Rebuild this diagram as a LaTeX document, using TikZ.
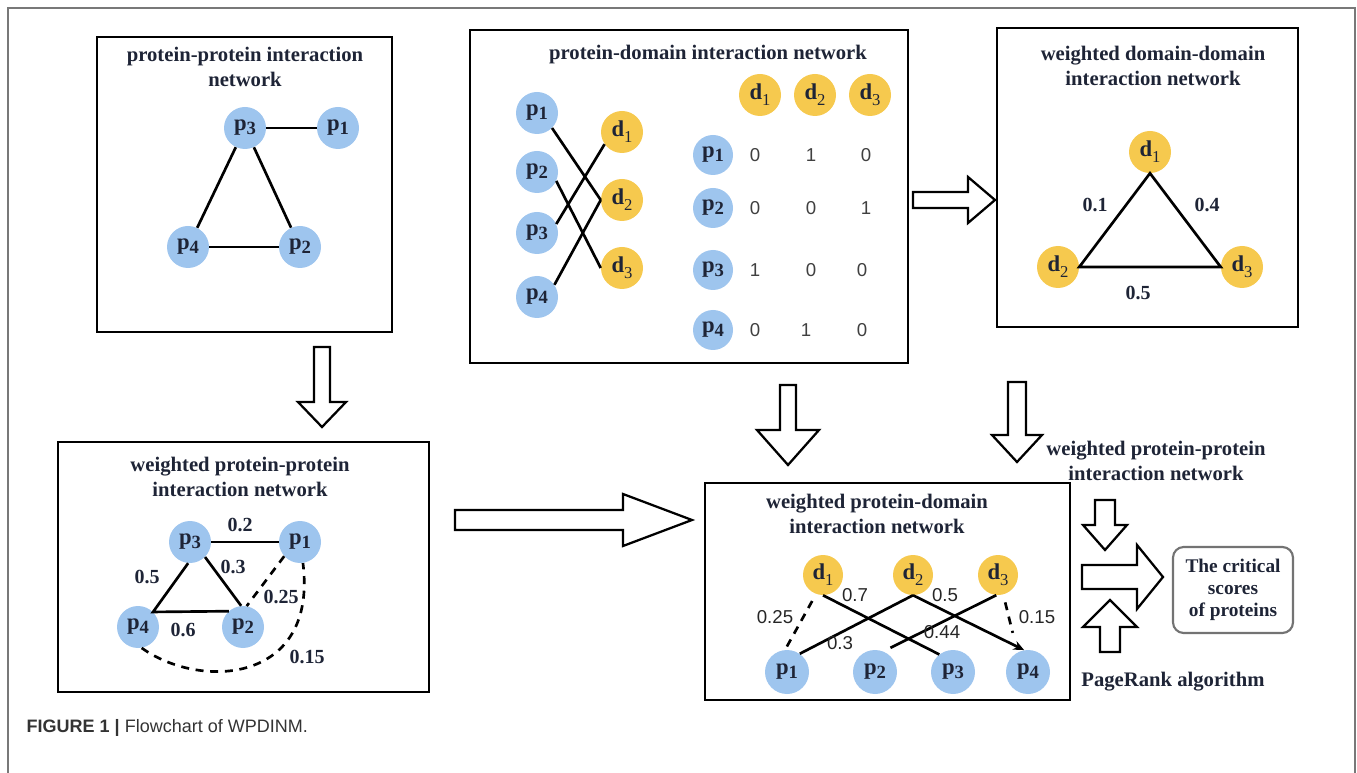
\documentclass[tikz,border=0pt]{standalone}
\usepackage{fontspec}
\setmainfont{Liberation Serif}
\setsansfont{Liberation Sans}
\usetikzlibrary{arrows.meta}

\definecolor{pblue}{RGB}{158,197,238}
\definecolor{dyellow}{RGB}{246,201,78}
\definecolor{ink}{RGB}{30,36,54}
\definecolor{framegray}{RGB}{120,120,120}

% node labels: protein p_i and domain d_j
\newcommand\pname[1]{\textbf{p}\raisebox{-0.3ex}{\fontsize{14}{14}\selectfont\bfseries #1}}
\newcommand\dname[1]{\textbf{d}\raisebox{-0.6ex}{\fontsize{12.5}{12.5}\selectfont #1}}

% hollow block arrow: tail point, direction, length, head length, shaft half width, head half width
\newcommand\blockarrow[6]{%
  \draw[barrow, shift={(#1)}, rotate=#2]
    (0,-#5) -- ({#3-#4},-#5) -- ({#3-#4},-#6) -- (#3,0)
    -- ({#3-#4},#6) -- ({#3-#4},#5) -- (0,#5) -- cycle;}

\tikzset{
  panel/.style={draw=black, line width=2.2pt},
  title/.style={font=\bfseries\fontsize{15.5}{18.5}\selectfont, text=ink, align=center},
  pnode/.style={circle, fill=pblue, minimum size=31.5pt, inner sep=0pt,
                font=\fontsize{17}{17}\selectfont, text=ink},
  dnode/.style={circle, fill=dyellow, minimum size=31.5pt, inner sep=0pt,
                font=\fontsize{17}{17}\selectfont, text=ink},
  edge/.style={line width=2pt, draw=black},
  dedge/.style={edge, dash pattern=on 6pt off 5pt},
  wlab/.style={font=\bfseries\fontsize{15}{15}\selectfont, text=ink},
  slab/.style={font=\sffamily\fontsize{14}{14}\selectfont, text=black!85},
  mval/.style={font=\sffamily\fontsize{14}{14}\selectfont, text=black!75},
  barrow/.style={draw=black, line width=1.7pt, fill=white, line join=miter},
}

\begin{document}
\begin{tikzpicture}[x=0.75pt, y=-0.75pt]
\useasboundingbox (0,0) rectangle (1357,773);

% figure frame
\draw[framegray, line width=1.2pt] (8,773) -- (8,8) -- (1355,8) -- (1355,773);

% ---------- protein-protein interaction network ----------
\draw[panel] (97,37) rectangle (392,332);
\node[title] (ta) at (245,67) {protein-protein interaction\\network};
\node[pnode] (a3) at (245,128) {\pname{3}};
\node[pnode] (a1) at (338,128) {\pname{1}};
\node[pnode] (a4) at (188,247) {\pname{4}};
\node[pnode] (a2) at (300,247) {\pname{2}};
\draw[edge] (a3) -- (a1);
\draw[edge] (a3) -- (a4);
\draw[edge] (a3) -- (a2);
\draw[edge] (a4) -- (a2);

% ---------- protein-domain interaction network ----------
\draw[panel] (470,30) rectangle (908,363);
\node[title] (tb) at (708,55) {protein-domain interaction network};
\node[pnode] (bp1) at (537,113) {\pname{1}};
\node[pnode] (bp2) at (537,172) {\pname{2}};
\node[pnode] (bp3) at (537,233) {\pname{3}};
\node[pnode] (bp4) at (537,297) {\pname{4}};
\node[dnode] (bd1) at (622,132) {\dname{1}};
\node[dnode] (bd2) at (622,200) {\dname{2}};
\node[dnode] (bd3) at (622,268) {\dname{3}};
\draw[edge] (bp1.-45) -- (bd2.west);
\draw[edge] (bp2.-25) -- (bd3.west);
\draw[edge] (bp3.25) -- (bd1.-145);
\draw[edge] (bp4.35) -- (bd2.west);

% incidence matrix
\node[dnode] (md1) at (760,95) {\dname{1}};
\node[dnode] (md2) at (815,95) {\dname{2}};
\node[dnode] (md3) at (870,95) {\dname{3}};
\node[pnode, minimum size=30pt] (mp1) at (713,155) {\pname{1}};
\node[pnode, minimum size=30pt] (mp2) at (713,208) {\pname{2}};
\node[pnode, minimum size=30pt] (mp3) at (713,270) {\pname{3}};
\node[pnode, minimum size=30pt] (mp4) at (713,330) {\pname{4}};
\node[mval] (m11) at (755,155) {0};
\node[mval] (m12) at (811,155) {1};
\node[mval] (m13) at (866,155) {0};
\node[mval] (m21) at (755,208) {0};
\node[mval] (m22) at (811,208) {0};
\node[mval] (m23) at (866,208) {1};
\node[mval] (m31) at (755,270) {1};
\node[mval] (m32) at (811,270) {0};
\node[mval] (m33) at (862,270) {0};
\node[mval] (m41) at (755,330) {0};
\node[mval] (m42) at (806,330) {1};
\node[mval] (m43) at (862,330) {0};

% ---------- weighted domain-domain interaction network ----------
\draw[panel] (997,28) rectangle (1298,327);
\node[title] (tc) at (1153,66) {weighted domain-domain\\interaction network};
\node[dnode] (cd1) at (1150,152) {\dname{1}};
\node[dnode] (cd2) at (1058,267) {\dname{2}};
\node[dnode] (cd3) at (1242,267) {\dname{3}};
\draw[edge, line join=miter] (cd1.south) -- (cd2.east) -- (cd3.west) -- cycle;
\node[wlab] (w1) at (1095,205) {0.1};
\node[wlab] (w2) at (1207,205) {0.4};
\node[wlab] (w3) at (1138,293) {0.5};

% ---------- weighted protein-protein interaction network ----------
\draw[panel] (58,442) rectangle (429,692);
\node[title] (td) at (240,477) {weighted protein-protein\\interaction network};
\node[pnode] (dp3) at (190,542) {\pname{3}};
\node[pnode] (dp1) at (300,542) {\pname{1}};
\node[pnode] (dp4) at (138,627) {\pname{4}};
\node[pnode] (dp2) at (243,627) {\pname{2}};
\draw[edge] (dp3.east) -- (dp1.west);
\draw[edge] (dp3.-95) -- (dp4.45) -- (dp2.132);
\draw[edge] (dp3.-45) -- (dp2.95);
\draw[dedge] (dp1.222) -- (dp2.80);
\draw[dedge] (dp4.-80) .. controls (200,690) and (318,684) .. (dp1.-82);
\node[wlab] (v1) at (240,525) {0.2};
\node[wlab] (v2) at (233,567) {0.3};
\node[wlab] (v3) at (147,577) {0.5};
\node[wlab] (v4) at (281,597) {0.25};
\node[wlab] (v5) at (183,630) {0.6};
\node[wlab] (v6) at (307,657) {0.15};

% ---------- weighted protein-domain interaction network ----------
\draw[panel] (705,483) rectangle (1070,700);
\node[title] (te) at (877,514) {weighted protein-domain\\interaction network};
\node[dnode, minimum size=30pt] (ed1) at (823,575) {\dname{1}};
\node[dnode, minimum size=30pt] (ed2) at (913,575) {\dname{2}};
\node[dnode, minimum size=30pt] (ed3) at (998,575) {\dname{3}};
\node[pnode, minimum size=33pt] (ep1) at (787,672) {\pname{1}};
\node[pnode, minimum size=33pt] (ep2) at (875,672) {\pname{2}};
\node[pnode, minimum size=33pt] (ep3) at (953,672) {\pname{3}};
\node[pnode, minimum size=33pt] (ep4) at (1028,672) {\pname{4}};
\draw[edge] (ed1.south) -- (ep3.128);
\draw[dedge, shorten <=6pt] (ed1.-110) -- (ep1.95);
\draw[edge] (ed2.south) -- (ep1.55);
\draw[edge, -{Stealth[length=8pt,width=7pt]}] (ed2.south) -- (ep4.100);
\draw[edge, shorten >=6pt] (ed3.-95) -- (ep2.68);
\draw[dedge, shorten <=6pt, shorten >=15pt] (ed3.-75) -- (ep4.118);
\node[slab] (u1) at (855,595) {0.7};
\node[slab] (u2) at (945,595) {0.5};
\node[slab] (u3) at (775,617) {0.25};
\node[slab] (u4) at (1037,617) {0.15};
\node[slab] (u5) at (942,632) {0.44};
\node[slab] (u6) at (840,643) {0.3};

% ---------- result ----------
\node[title] (tf) at (1156,461) {weighted protein-protein\\interaction network};
\node[draw=black!55, line width=1.6pt, rounded corners=8pt,
      minimum width=90pt, minimum height=64.5pt, align=center,
      font=\bfseries\fontsize{14.5}{16.5}\selectfont, text=ink] (scores)
      at (1233,590) {The critical\\scores\\of proteins};
\node[title] (pr) at (1173,682) {PageRank algorithm};

% ---------- flow arrows ----------
\blockarrow{913,200}{0}{82}{27}{8}{23}
\blockarrow{322,347}{-90}{80}{25}{8}{24}
\blockarrow{455,520}{0}{237}{69}{10}{26}
\blockarrow{788,385}{-90}{80}{35}{8}{31}
\blockarrow{1017,382}{-90}{80}{27}{9}{25}
\blockarrow{1105,500}{-90}{50}{25}{10}{22}
\blockarrow{1082,577}{0}{81}{26}{12}{32}
\blockarrow{1110,652}{90}{52}{27}{10}{27}

% caption
\node[anchor=west, font=\sffamily\fontsize{13.5}{15}\selectfont, text=black!80] (caption)
  at (22,728) {\textbf{FIGURE 1 |} Flowchart of WPDINM.};
\end{tikzpicture}
\end{document}
